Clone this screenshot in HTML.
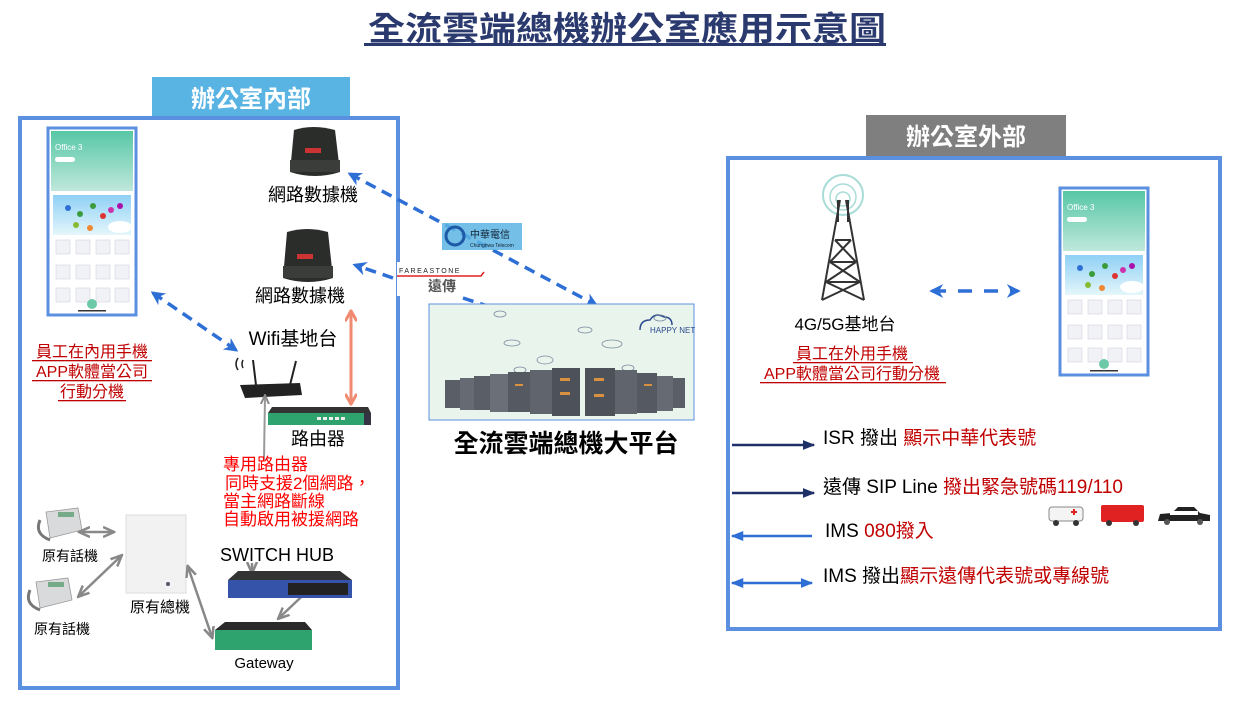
<!DOCTYPE html>
<html><head><meta charset="utf-8"><style>
html,body{margin:0;padding:0;background:#fff;}
svg{display:block;font-family:"Liberation Sans","Noto Sans CJK TC",sans-serif;}
</style></head><body>
<svg width="1256" height="702" viewBox="0 0 1256 702" xmlns="http://www.w3.org/2000/svg">
<defs>
<marker id="ab" viewBox="0 0 10 10" refX="8" refY="5" markerWidth="4" markerHeight="4" orient="auto-start-reverse"><path d="M0,0 L10,5 L0,10 L3,5 z" fill="#2e6fd6"/></marker>
<marker id="ag" viewBox="0 0 10 10" refX="8" refY="5" markerWidth="5" markerHeight="5" orient="auto-start-reverse"><path d="M0,1 L9,5 L0,9" fill="none" stroke="#888" stroke-width="2"/></marker>
<marker id="as" viewBox="0 0 10 10" refX="8" refY="5" markerWidth="4" markerHeight="4" orient="auto-start-reverse"><path d="M0,0 L9,5 L0,10" fill="none" stroke="#f08a70" stroke-width="2.5"/></marker>
<marker id="an" viewBox="0 0 10 10" refX="9" refY="5" markerWidth="5" markerHeight="5" orient="auto-start-reverse"><path d="M0,1 L10,5 L0,9 z" fill="#1f3068"/></marker>
<marker id="al" viewBox="0 0 10 10" refX="9" refY="5" markerWidth="5" markerHeight="5" orient="auto-start-reverse"><path d="M0,1 L10,5 L0,9 z" fill="#2e6fd6"/></marker>
<linearGradient id="ph" x1="0" y1="0" x2="0" y2="1"><stop offset="0" stop-color="#57c7a5"/><stop offset="1" stop-color="#bfe8dc"/></linearGradient>
<linearGradient id="bn" x1="0" y1="0" x2="0" y2="1"><stop offset="0" stop-color="#8fd0f5"/><stop offset="1" stop-color="#e4f6fb"/></linearGradient>
<g id="phone">
<rect x="0" y="0" width="88" height="187" fill="#fff" stroke="#5b8fe0" stroke-width="3"/>
<rect x="3" y="3" width="82" height="60" fill="url(#ph)"/>
<text x="7" y="22" font-size="8" fill="#fff">Office 3</text>
<rect x="7" y="29" width="20" height="5" rx="2.5" fill="#fff"/>
<rect x="5" y="67" width="78" height="40" fill="url(#bn)"/>
<circle cx="20" cy="80" r="3" fill="#2e6fd6"/><circle cx="32" cy="86" r="3" fill="#3a9b3a"/><circle cx="45" cy="78" r="3" fill="#3a9b3a"/><circle cx="55" cy="88" r="3" fill="#d33"/><circle cx="63" cy="82" r="3" fill="#c3a"/><circle cx="72" cy="78" r="3" fill="#a1a"/><circle cx="28" cy="97" r="3" fill="#8b3"/><circle cx="42" cy="100" r="3" fill="#e83"/>
<ellipse cx="72" cy="99" rx="12" ry="6" fill="#fff"/>
<g fill="#f0f2f6" stroke="#ccd" stroke-width="0.5">
<rect x="8" y="112" width="14" height="14"/><rect x="28" y="112" width="14" height="14"/><rect x="48" y="112" width="14" height="14"/><rect x="67" y="112" width="14" height="14"/>
<rect x="8" y="137" width="14" height="14"/><rect x="28" y="137" width="14" height="14"/><rect x="48" y="137" width="14" height="14"/><rect x="67" y="137" width="14" height="14"/>
<rect x="8" y="160" width="14" height="14"/><rect x="28" y="160" width="14" height="14"/><rect x="48" y="160" width="14" height="14"/><rect x="67" y="160" width="14" height="14"/>
</g>
<circle cx="44" cy="176" r="5" fill="#6cc9a8"/>
<rect x="30" y="182" width="28" height="1.5" fill="#333"/>
</g>
</defs>

<!-- title -->
<text x="368" y="40" font-size="33" font-weight="bold" fill="#2b3a6e" textLength="518" lengthAdjust="spacingAndGlyphs">全流雲端總機辦公室應用示意圖</text>
<rect x="364" y="43" width="522" height="3" fill="#2b3a6e"/>

<!-- left box -->
<rect x="152" y="77" width="198" height="40" fill="#5ab4e3"/>
<text x="251" y="107" font-size="24" font-weight="bold" fill="#fff" text-anchor="middle">辦公室內部</text>
<rect x="20" y="118" width="378" height="570" fill="none" stroke="#5b8fe0" stroke-width="4"/>

<!-- right box -->
<rect x="866" y="115" width="200" height="42" fill="#7f7f7f"/>
<text x="966" y="145" font-size="24" font-weight="bold" fill="#fff" text-anchor="middle">辦公室外部</text>
<rect x="728" y="158" width="492" height="471" fill="none" stroke="#5b8fe0" stroke-width="4"/>

<use href="#phone" x="48" y="128"/>
<use href="#phone" x="1060" y="188"/>

<!-- modems -->
<g>
<path d="M294,130 Q313,124 335,130 L340,172 Q315,180 290,172 Z" fill="#2a2d2a"/>
<rect x="290" y="160" width="50" height="12" fill="#3a3d3a"/>
<rect x="305" y="148" width="16" height="5" fill="#c33"/>
</g>
<text x="313" y="201" font-size="18" text-anchor="middle" fill="#000">網路數據機</text>
<g>
<path d="M287,232 Q307,226 328,232 L333,278 Q308,286 283,278 Z" fill="#2a2d2a"/>
<rect x="283" y="266" width="50" height="12" fill="#3a3d3a"/>
<rect x="297" y="254" width="16" height="5" fill="#c33"/>
</g>
<text x="300" y="302" font-size="18" text-anchor="middle" fill="#000">網路數據機</text>
<text x="293" y="345" font-size="19" text-anchor="middle" fill="#000">Wifi基地台</text>

<!-- wifi router -->
<g>
<line x1="256" y1="385" x2="253" y2="360" stroke="#222" stroke-width="2"/>
<line x1="290" y1="385" x2="296" y2="361" stroke="#222" stroke-width="2"/>
<path d="M240,385 L300,383 L302,395 L245,398 Z" fill="#222"/>
<path d="M238,370 q-4,-6 0,-12 M243,368 q-2,-4 0,-8" stroke="#222" stroke-width="1.5" fill="none"/>
</g>
<!-- router -->
<path d="M272,407 L368,407 L371,413 L268,413 Z" fill="#333"/>
<rect x="268" y="413" width="103" height="12" fill="#2fa36d"/>
<g fill="#eee"><rect x="317" y="417" width="4" height="3"/><rect x="323" y="417" width="4" height="3"/><rect x="329" y="417" width="4" height="3"/><rect x="335" y="417" width="4" height="3"/><rect x="341" y="417" width="4" height="3"/></g>
<rect x="364" y="413" width="7" height="12" fill="#334"/>
<text x="318" y="445" font-size="18" text-anchor="middle" fill="#000">路由器</text>
<line x1="264" y1="460" x2="265" y2="396" stroke="#999" stroke-width="2" marker-end="url(#ag)"/>
<line x1="351" y1="312" x2="351" y2="403" stroke="#f08a70" stroke-width="3" marker-start="url(#as)" marker-end="url(#as)"/>

<g font-size="17" fill="#ff0000">
<text x="223" y="470">專用路由器</text>
<text x="225" y="489">同時支援2個網路，</text>
<text x="223" y="507">當主網路斷線</text>
<text x="223" y="525">自動啟用被援網路</text>
</g>

<g font-size="16" fill="#c00000" text-anchor="middle">
<text x="92" y="357">員工在內用手機</text>
<text x="92" y="377">APP軟體當公司</text>
<text x="92" y="397">行動分機</text>
</g>
<g fill="#c00000"><rect x="32" y="360" width="120" height="1.3"/><rect x="32" y="380" width="120" height="1.3"/><rect x="58" y="400" width="68" height="1.3"/></g>

<!-- dashed connectors -->
<g stroke="#2e6fd6" stroke-width="3.5" stroke-dasharray="11,7" fill="none">
<line x1="153" y1="293" x2="236" y2="350" marker-start="url(#ab)" marker-end="url(#ab)"/>
<line x1="350" y1="174" x2="596" y2="305" marker-start="url(#ab)" marker-end="url(#ab)"/>
<line x1="393" y1="278" x2="355" y2="265" marker-end="url(#ab)"/>
<line x1="463" y1="298" x2="552" y2="327" marker-end="url(#ab)"/>
<line x1="932" y1="291" x2="1018" y2="291" stroke-dasharray="14,12" marker-start="url(#ab)" marker-end="url(#ab)"/>
</g>

<!-- logos -->
<rect x="442" y="223" width="80" height="27" fill="#5ab4e3" opacity="0.85"/>
<circle cx="455" cy="236" r="9" fill="none" stroke="#1d5aa8" stroke-width="3"/>
<text x="470" y="238" font-size="10" fill="#123">中華電信</text>
<text x="470" y="247" font-size="5" fill="#123">Chunghwa Telecom</text>
<rect x="397" y="262" width="90" height="34" fill="#fff"/>
<text x="399" y="273" font-size="7" fill="#222" letter-spacing="1.5">FAREASTONE</text>
<path d="M397,276 L481,276 L484,272" stroke="#e02020" stroke-width="1.5" fill="none"/>
<text x="428" y="291" font-size="14" fill="#555" font-weight="bold">遠傳</text>

<!-- platform -->
<rect x="429" y="304" width="265" height="116" fill="#e8f4ec" stroke="#5b8fe0" stroke-width="1"/>
<path d="M640,330 q0,-10 10,-10 q5,-8 14,-3 q8,0 8,8" fill="none" stroke="#2b4a8e" stroke-width="1.5"/>
<text x="650" y="333" font-size="8" fill="#2b4a8e">HAPPY NET</text>
<g fill="none" stroke="#7a8aa0" stroke-width="0.8">
<ellipse cx="500" cy="314" rx="6" ry="3"/><ellipse cx="585" cy="330" rx="7" ry="3"/><ellipse cx="612" cy="344" rx="10" ry="4"/><ellipse cx="512" cy="343" rx="8" ry="3"/><ellipse cx="660" cy="318" rx="6" ry="3"/><ellipse cx="628" cy="368" rx="6" ry="3"/><ellipse cx="520" cy="370" rx="6" ry="3"/><ellipse cx="545" cy="360" rx="8" ry="4"/>
</g>
<g>
<rect x="445" y="380" width="15" height="28" fill="#5a5e66"/><rect x="460" y="378" width="14" height="32" fill="#666a72"/>
<rect x="474" y="376" width="16" height="34" fill="#5a5e66"/><rect x="490" y="374" width="18" height="38" fill="#6b6f77"/>
<rect x="508" y="372" width="22" height="40" fill="#555962"/><rect x="530" y="370" width="22" height="44" fill="#60646c"/>
<rect x="552" y="368" width="28" height="48" fill="#4d5159"/><rect x="585" y="368" width="30" height="48" fill="#4d5159"/>
<rect x="615" y="370" width="22" height="44" fill="#60646c"/><rect x="637" y="373" width="20" height="40" fill="#555962"/>
<rect x="657" y="376" width="16" height="35" fill="#666a72"/><rect x="673" y="378" width="12" height="30" fill="#5a5e66"/>
</g>
<g fill="#d99140"><rect x="560" y="378" width="10" height="3"/><rect x="560" y="392" width="10" height="3"/><rect x="594" y="378" width="10" height="3"/><rect x="594" y="394" width="10" height="3"/><rect x="515" y="384" width="8" height="2"/><rect x="644" y="384" width="8" height="2"/></g>
<text x="566" y="452" font-size="25" font-weight="bold" text-anchor="middle" fill="#000">全流雲端總機大平台</text>

<!-- bottom left -->
<g>
<path d="M46,512 L78,508 L82,530 L50,538 Z" fill="#d8dadc" stroke="#999" stroke-width="0.8"/>
<rect x="58" y="512" width="16" height="5" fill="#7a8"/>
<path d="M40,520 q-6,14 10,20" stroke="#777" stroke-width="3" fill="none"/>
<path d="M36,582 L68,578 L72,600 L40,608 Z" fill="#d8dadc" stroke="#999" stroke-width="0.8"/>
<rect x="48" y="582" width="16" height="5" fill="#7a8"/>
<path d="M30,590 q-6,14 10,20" stroke="#777" stroke-width="3" fill="none"/>
</g>
<text x="70" y="561" font-size="14" text-anchor="middle" fill="#000">原有話機</text>
<text x="62" y="634" font-size="14" text-anchor="middle" fill="#000">原有話機</text>
<rect x="126" y="515" width="60" height="78" fill="#f2f2f2" stroke="#ddd"/>
<circle cx="168" cy="584" r="2" fill="#556"/>
<text x="160" y="612" font-size="15" text-anchor="middle" fill="#000">原有總機</text>
<g stroke="#888" stroke-width="2.5" fill="none">
<line x1="80" y1="532" x2="113" y2="532" marker-start="url(#ag)" marker-end="url(#ag)"/>
<line x1="79" y1="596" x2="121" y2="556" marker-start="url(#ag)" marker-end="url(#ag)"/>
<line x1="188" y1="567" x2="212" y2="637" marker-start="url(#ag)" marker-end="url(#ag)"/>
<line x1="316" y1="583" x2="279" y2="618" marker-start="url(#ag)" marker-end="url(#ag)"/>
<line x1="252" y1="563" x2="252" y2="572" marker-end="url(#ag)"/>
</g>
<text x="220" y="561" font-size="18" fill="#000">SWITCH HUB</text>
<path d="M238,571 L340,571 L352,580 L228,580 Z" fill="#333"/>
<rect x="228" y="580" width="124" height="18" fill="#3553a8"/>
<g fill="#222"><rect x="288" y="583" width="60" height="12"/></g>
<path d="M225,622 L305,622 L312,630 L215,630 Z" fill="#2a2a2a"/>
<rect x="215" y="630" width="97" height="20" fill="#2fa36d"/>
<text x="264" y="668" font-size="15" text-anchor="middle" fill="#000">Gateway</text>

<!-- tower -->
<g fill="none">
<circle cx="843" cy="195" r="20" stroke="#a8dcd6" stroke-width="2"/>
<circle cx="843" cy="197" r="13" stroke="#a8dcd6" stroke-width="1.5"/>
<circle cx="843" cy="199" r="7" stroke="#a8dcd6" stroke-width="1.5"/>
<g stroke="#333" stroke-width="2">
<line x1="840" y1="200" x2="822" y2="300"/><line x1="846" y1="200" x2="864" y2="300"/>
<line x1="838" y1="200" x2="838" y2="222"/><line x1="848" y1="200" x2="848" y2="222"/>
<line x1="835" y1="240" x2="851" y2="240"/><line x1="830" y1="262" x2="856" y2="262"/><line x1="826" y1="282" x2="860" y2="282"/>
<line x1="835" y1="240" x2="856" y2="262"/><line x1="851" y1="240" x2="830" y2="262"/>
<line x1="830" y1="262" x2="860" y2="282"/><line x1="856" y1="262" x2="826" y2="282"/>
<line x1="826" y1="282" x2="864" y2="300"/><line x1="860" y1="282" x2="822" y2="300"/>
</g></g>
<text x="845" y="330" font-size="17" text-anchor="middle" fill="#000">4G/5G基地台</text>
<g font-size="16" fill="#c00000" text-anchor="middle">
<text x="852" y="359">員工在外用手機</text>
<text x="852" y="379">APP軟體當公司行動分機</text>
</g>
<g fill="#c00000"><rect x="793" y="362" width="120" height="1.3"/><rect x="760" y="382" width="186" height="1.3"/></g>

<!-- right arrows -->
<line x1="732" y1="445" x2="814" y2="445" stroke="#1f3068" stroke-width="2.5" marker-end="url(#an)"/>
<line x1="732" y1="493" x2="814" y2="493" stroke="#1f3068" stroke-width="2.5" marker-end="url(#an)"/>
<line x1="812" y1="536" x2="732" y2="536" stroke="#2e6fd6" stroke-width="2.5" marker-end="url(#al)"/>
<line x1="732" y1="583" x2="812" y2="583" stroke="#2e6fd6" stroke-width="2.5" marker-start="url(#al)" marker-end="url(#al)"/>
<g font-size="19">
<text x="823" y="444"><tspan fill="#000">ISR 撥出 </tspan><tspan fill="#c00000">顯示中華代表號</tspan></text>
<text x="823" y="493"><tspan fill="#000">遠傳 SIP Line </tspan><tspan fill="#c00000">撥出緊急號碼119/110</tspan></text>
<text x="825" y="537"><tspan fill="#000">IMS </tspan><tspan fill="#c00000">080撥入</tspan></text>
<text x="823" y="582"><tspan fill="#000">IMS 撥出</tspan><tspan fill="#c00000">顯示遠傳代表號或專線號</tspan></text>
</g>
<!-- vehicles -->
<rect x="1049" y="507" width="34" height="14" rx="3" fill="#f4f4f4" stroke="#888"/>
<rect x="1071" y="511" width="6" height="2" fill="#d22"/><rect x="1073" y="509" width="2" height="6" fill="#d22"/>
<circle cx="1056" cy="523" r="3" fill="#333"/><circle cx="1076" cy="523" r="3" fill="#333"/>
<rect x="1101" y="505" width="43" height="17" rx="2" fill="#e02222"/>
<circle cx="1109" cy="523" r="3" fill="#333"/><circle cx="1136" cy="523" r="3" fill="#333"/>
<path d="M1158,521 L1160,514 L1172,513 L1178,507 L1194,507 L1200,513 L1210,515 L1210,521 Z" fill="#222"/>
<rect x="1170" y="511" width="28" height="4" fill="#fff"/>
<circle cx="1167" cy="522" r="3" fill="#555"/><circle cx="1200" cy="522" r="3" fill="#555"/>
</svg>
</body></html>
